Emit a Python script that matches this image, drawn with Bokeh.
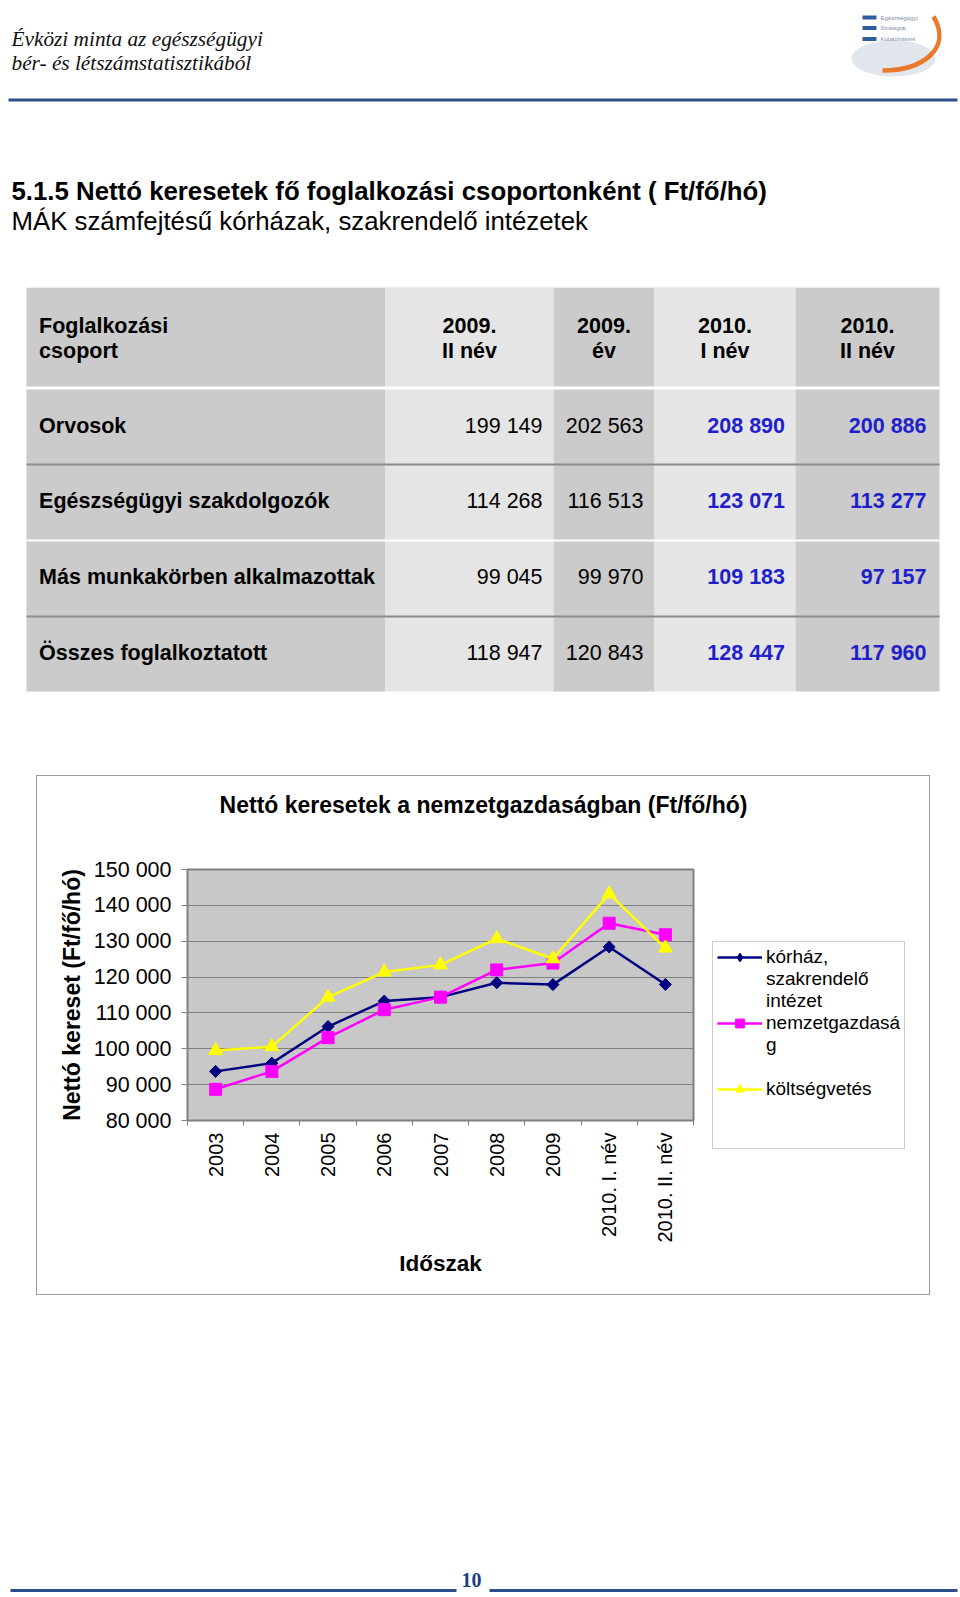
import numpy as np
from bokeh.plotting import figure
from bokeh.models import Range1d, FixedTicker, Legend, LegendItem, Spacer
from bokeh.layouts import column, row
from bokeh.core.properties import value
from bokeh.embed import file_html
from bokeh.resources import INLINE

# ---------------- data ----------------
header_lines = ["Évközi minta az egészségügyi", "bér- és létszámstatisztikából"]
logo_lines = ["Egészségügyi", "Stratégiai", "Kutatóintézet"]
title_lines = ["5.1.5 Nettó keresetek fő foglalkozási csoportonként ( Ft/fő/hó)",
               "MÁK számfejtésű kórházak, szakrendelő intézetek"]

table_corner = ["Foglalkozási", "csoport"]
period_top = ["2009.", "2009.", "2010.", "2010."]
period_bottom = ["II név", "év", "I név", "II név"]
groups = ["Orvosok", "Egészségügyi szakdolgozók", "Más munkakörben alkalmazottak",
          "Összes foglalkoztatott"]
v_2009_II = [199149, 114268, 99045, 118947]
v_2009 = [202563, 116513, 99970, 120843]
v_2010_I = [208890, 123071, 109183, 128447]
v_2010_II = [200886, 113277, 97157, 117960]

chart_title = "Nettó keresetek a nemzetgazdaságban (Ft/fő/hó)"
periods = ["2003", "2004", "2005", "2006", "2007", "2008", "2009", "2010. I. név", "2010. II. név"]
korhaz = [93700, 96000, 106200, 113300, 114400, 118400, 117900, 128400, 117950]
nemzetgazdasag = [88700, 93700, 103100, 110900, 114400, 122000, 123900, 135000, 131800]
koltsegvetes = [99500, 100600, 114400, 121400, 123400, 130700, 125100, 143200, 128100]
# legend labels as wrapped in the original (one list of lines per series)
series_label_lines = [["kórház,", "szakrendelő", "intézet"], ["nemzetgazdasá", "g", ""],
                      ["költségvetés", "", ""]]
y_ticks = [80000, 90000, 100000, 110000, 120000, 130000, 140000, 150000]
y_title = "Nettó kereset (Ft/fő/hó)"
x_title = "Időszak"
page_number = "10"


def fmt(v):
    return f"{v:,}".replace(",", " ")


SANS = "Liberation Sans"
SERIF = "Liberation Serif"
W = 960
TOP_H = 775
BOX_X0, BOX_W, BOX_H = 36, 894, 520
TITLE_H = 60
CH_W = 664
LEG_W = BOX_W - CH_W
PLOT_H = BOX_H - TITLE_H
BOT_H = 1596 - TOP_H - BOX_H
Y0_BOT = TOP_H + BOX_H


def blank_fig(w, h, xr, yr, bg="white"):
    f = figure(width=w, height=h, x_range=xr, y_range=yr, x_axis_type=None, y_axis_type=None,
               toolbar_location=None, output_backend="svg", min_border=0,
               outline_line_color=None, background_fill_color=bg, border_fill_color=bg)
    return f


# ---------------- top part (page coordinates) ----------------
top = blank_fig(W, TOP_H, Range1d(0, W), Range1d(TOP_H, 0))

top.text(x=[11, 11], y=[38.5, 62.5], text=header_lines, text_font=value(SERIF),
         text_font_style="italic", text_font_size="21.3px", text_baseline="alphabetic",
         text_color="#111111")

# logo
top.ellipse(x=[893], y=[58], width=[84], height=[36], fill_color="#DCE2EA", line_color=None,
            fill_alpha=0.85)
top.bezier(x0=[933], y0=[16], x1=[882], y1=[70], cx0=[952], cy0=[48], cx1=[922], cy1=[70],
           line_color="#E8782A", line_width=4.5)
top.quad(left=[862, 862, 862], right=[876, 876, 876], top=[15, 25.5, 36.5],
         bottom=[19, 29.5, 40.5], fill_color="#2F5C9C", line_color=None)
top.text(x=[880, 880, 880], y=[17, 27.5, 38.5], text=logo_lines, text_font=value(SANS),
         text_font_size="6px", text_baseline="middle", text_color="#7D8CA3")

top.segment(x0=[8], y0=[99.5], x1=[957], y1=[99.5], line_color="#2C4F8A", line_width=3)

top.text(x=[11], y=[190], text=title_lines[:1], text_font=value(SANS), text_font_style="bold",
         text_font_size="25.8px", text_baseline="alphabetic", text_color="black")
top.text(x=[11], y=[220], text=title_lines[1:], text_font=value(SANS),
         text_font_size="25.8px", text_baseline="alphabetic", text_color="black")

# table
col_edges = [26, 385, 553, 654, 795, 939]
col_colors = ["#CBCBCB", "#E5E5E5", "#CBCBCB", "#E5E5E5", "#CBCBCB"]
top.quad(left=col_edges[:-1], right=col_edges[1:], top=[287] * 5, bottom=[691] * 5,
         fill_color=col_colors, line_color=None)
top.segment(x0=[26] * 5, x1=[939] * 5, y0=[287, 387.5, 464, 540, 616], y1=[287, 387.5, 464, 540, 616],
            line_color=["#EEEEEE", "white", "#8C8C8C", "white", "#8C8C8C"],
            line_width=[1, 3, 2, 2, 2])

hdr_y = [325, 350]
TFS = "21.5px"
top.text(x=[38.6, 38.6], y=hdr_y, text=table_corner, text_font=value(SANS), text_font_style="bold",
         text_font_size=TFS, text_baseline="alphabetic", text_color="black")
col_centers = [(col_edges[i] + col_edges[i + 1]) / 2 for i in range(1, 5)]
top.text(x=col_centers, y=[hdr_y[0]] * 4, text=period_top, text_font=value(SANS),
         text_font_style="bold", text_font_size=TFS, text_align="center",
         text_baseline="alphabetic", text_color="black")
top.text(x=col_centers, y=[hdr_y[1]] * 4, text=period_bottom, text_font=value(SANS),
         text_font_style="bold", text_font_size=TFS, text_align="center",
         text_baseline="alphabetic", text_color="black")

row_base = [425, 500.7, 576.4, 652]
top.text(x=[38.6] * 4, y=row_base, text=groups, text_font=value(SANS), text_font_style="bold",
         text_font_size=TFS, text_baseline="alphabetic", text_color="black")
num_right = [542, 643, 784.5, 926]
num_colors = ["black", "black", "#1F1FCC", "#1F1FCC"]
num_styles = ["normal", "normal", "bold", "bold"]
for vals, xr, c, st in zip([v_2009_II, v_2009, v_2010_I, v_2010_II], num_right, num_colors, num_styles):
    top.text(x=[xr] * 4, y=row_base, text=[fmt(v) for v in vals], text_font=value(SANS),
             text_font_style=st, text_font_size=TFS, text_align="right",
             text_baseline="alphabetic", text_color=c)

# ---------------- chart box: title strip ----------------
title_fig = blank_fig(BOX_W, TITLE_H, Range1d(BOX_X0, BOX_X0 + BOX_W),
                      Range1d(TOP_H + TITLE_H, TOP_H), bg=None)
title_fig.text(x=[BOX_X0 + BOX_W / 2], y=[804], text=[chart_title], text_font=value(SANS),
               text_font_style="bold", text_font_size="23px", text_align="center",
               text_baseline="middle", text_color="black")

# ---------------- chart ----------------
xs = list(range(1, len(periods) + 1))
chart = figure(width=CH_W, height=PLOT_H, x_range=Range1d(0.5, len(periods) + 0.5),
               y_range=Range1d(y_ticks[0], y_ticks[-1]), toolbar_location=None,
               output_backend="svg", min_border_left=151, min_border_right=7,
               min_border_top=34, min_border_bottom=175, background_fill_color="#C8C8C8",
               border_fill_color=None, outline_line_color="#808080", outline_line_width=2)

xa = chart.xaxis[0]
xa.ticker = FixedTicker(ticks=xs, minor_ticks=[i + 0.5 for i in range(len(periods) + 1)])
xa.major_label_overrides = {i: lab for i, lab in zip(xs, periods)}
xa.major_label_orientation = np.pi / 2
xa.major_tick_line_color = None
xa.major_tick_out = 0
xa.major_tick_in = 0
xa.minor_tick_out = 5
xa.minor_tick_in = 0
xa.minor_tick_line_color = "#808080"
xa.axis_line_color = "#808080"
xa.major_label_standoff = 7
xa.major_label_text_font = SANS
xa.major_label_text_font_size = "20px"
xa.major_label_text_color = "black"
xa.axis_label = x_title
xa.axis_label_standoff = 5
xa.axis_label_text_font = SANS
xa.axis_label_text_font_size = "22.5px"
xa.axis_label_text_font_style = "bold"
xa.axis_label_text_color = "black"

ya = chart.yaxis[0]
ya.ticker = FixedTicker(ticks=y_ticks)
ya.major_label_overrides = {t: fmt(t) for t in y_ticks}
ya.minor_tick_line_color = None
ya.major_tick_out = 6
ya.major_tick_in = 0
ya.major_tick_line_color = "#808080"
ya.axis_line_color = "#808080"
ya.major_label_standoff = 10
ya.major_label_text_font = SANS
ya.major_label_text_font_size = "21.5px"
ya.major_label_text_color = "black"
ya.axis_label = y_title
ya.axis_label_standoff = 6
ya.axis_label_text_font = SANS
ya.axis_label_text_font_size = "23px"
ya.axis_label_text_font_style = "bold"
ya.axis_label_text_color = "black"

chart.xgrid.visible = False
chart.ygrid.ticker = FixedTicker(ticks=y_ticks)
chart.ygrid.grid_line_color = "#808080"
chart.ygrid.grid_line_width = 1

series = [korhaz, nemzetgazdasag, koltsegvetes]
colors = ["#000080", "#FF00FF", "#FFFF00"]
markers = ["square", "square", "triangle"]
leg_markers = ["diamond", "square", "triangle"]
sizes = [8.5, 12, 14]
angles = [np.pi / 4, 0, 0]
for vals, c, m, s, a in zip(series, colors, markers, sizes, angles):
    chart.line(xs, vals, line_color=c, line_width=2.5)
    chart.scatter(xs, vals, marker=m, size=s, angle=a, fill_color=c, line_color=c)

# ---------------- legend panel (same series, view scrolled away; only the legend shows) ----------------
leg = blank_fig(LEG_W, PLOT_H, Range1d(1000, 1001), Range1d(0, 1), bg=None)
blank = leg.scatter(xs, korhaz, fill_alpha=0, line_alpha=0)
items = []
for vals, c, m, lines in zip(series, colors, leg_markers, series_label_lines):
    lr = leg.line(xs, vals, line_color=c, line_width=2.5)
    sr = leg.scatter(xs, vals, marker=m, size=10, fill_color=c, line_color=c)
    items.append(LegendItem(label=lines[0], renderers=[lr, sr]))
    for extra in lines[1:]:
        items.append(LegendItem(label=extra if extra else " ", renderers=[blank]))

legend = Legend(items=items, location=(12, 146), margin=0, padding=4, spacing=0,
                glyph_width=45, glyph_height=22, label_standoff=4,
                label_text_font=SANS, label_text_font_size="19px", label_text_color="black",
                border_line_color="#9C9C9C", border_line_width=1,
                background_fill_color="white", background_fill_alpha=1)
leg.add_layout(legend)

box = column(title_fig, row(chart, column(leg)),
             styles={"box-shadow": "inset 0 0 0 1px #9C9C9C"})

# ---------------- footer ----------------
bottom = blank_fig(W, BOT_H, Range1d(0, W), Range1d(Y0_BOT + BOT_H, Y0_BOT))
bottom.segment(x0=[10, 489], x1=[456, 957], y0=[1590, 1590], y1=[1590, 1590],
               line_color="#2C4F8A", line_width=3)
bottom.text(x=[471], y=[1579], text=[page_number], text_font=value(SERIF),
            text_font_style="bold", text_font_size="20px", text_align="center",
            text_baseline="alphabetic", text_color="#1F3F7F")

layout = column(top, row(Spacer(width=BOX_X0, height=BOX_H), box), bottom)
open("out.html", "w").write(file_html(layout, INLINE))
